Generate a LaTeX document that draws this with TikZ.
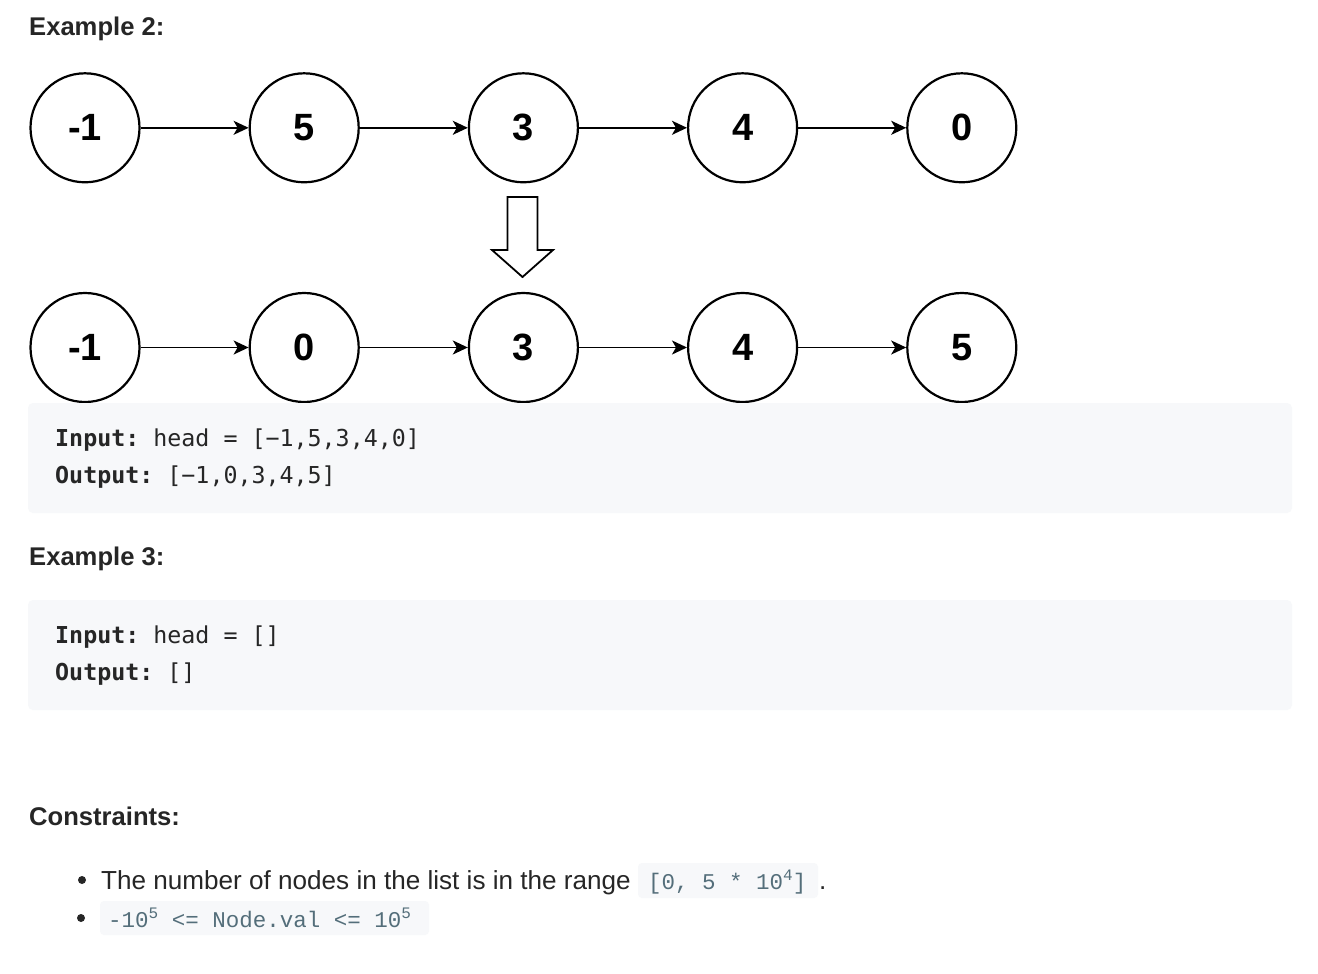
\documentclass[tikz,border=0pt]{standalone}
\usepackage{fontspec}
\setmainfont{Liberation Sans}
\setmonofont{DejaVu Sans Mono}
\newfontfamily\cmono{Liberation Mono}
\usetikzlibrary{arrows.meta}
\definecolor{txt}{RGB}{38,38,38}
\definecolor{codebg}{RGB}{247,248,250}
\definecolor{icode}{RGB}{84,110,122}
\newcommand\mysup[1]{\raisebox{9pt}{\fontsize{16}{16}\selectfont #1}}
\begin{document}
\begin{tikzpicture}[x=1pt,y=-1pt,
  lnode/.style={circle, draw, line width=2.2pt, minimum size=109pt, inner sep=0pt, font=\fontsize{38}{38}\selectfont\bfseries},
  link/.style={line width=1.8pt, -{Stealth[length=15pt,width=14pt,inset=4pt]}},
  title/.style={anchor=base west, inner sep=0pt, text=txt, font=\fontsize{25.6}{25.6}\selectfont\bfseries},
  codeblk/.style={fill=codebg, rounded corners=5pt},
  codetxt/.style={anchor=base west, inner sep=0pt, text=txt, font=\fontsize{23.3}{23.3}\selectfont\ttfamily},
  bodytxt/.style={anchor=base west, inner sep=0pt, text=txt, font=\fontsize{26.1}{26.1}\selectfont},
  icodetxt/.style={anchor=base west, inner sep=0pt, text=icode, font=\fontsize{22.5}{22.5}\selectfont\cmono},
  downarrow/.style={line width=1.8pt, fill=white, line join=miter}
]
\useasboundingbox (0,0) rectangle (1318,974);
\fill[white] (0,0) rectangle (1318,974);

% Title
\node[title] (t2) at (29,36) {Example 2:};

% Linked lists
\foreach \v [count=\i from 0] in {-1,5,3,4,0} {
  \node[lnode] (a\i) at (85+219.2*\i,127.8) {\v};
}
\foreach \v [count=\i from 0] in {-1,0,3,4,5} {
  \node[lnode] (b\i) at (85+219.2*\i,347.5) {\v};
}
\foreach \i/\j in {0/1,1/2,2/3,3/4} {
  \draw[link] (a\i) -- (a\j);
  \draw[link] (b\i) -- (b\j);
}

% Down arrow
\draw[downarrow] (507.5,197) -- (537.5,197) -- (537.5,250) -- (553,250) -- (522.5,277) -- (492,250) -- (507.5,250) -- cycle;

% Code block 1
\fill[codeblk] (28,403) rectangle (1292,513);
\node[codetxt] (in2) at (55,446) {\textbf{Input:} head = [−1,5,3,4,0]};
\node[codetxt] (out2) at (55,483) {\textbf{Output:} [−1,0,3,4,5]};

% Example 3
\node[title] (t3) at (29,565) {Example 3:};
\fill[codeblk] (28,600) rectangle (1292,710);
\node[codetxt] (in3) at (55,643) {\textbf{Input:} head = []};
\node[codetxt] (out3) at (55,680) {\textbf{Output:} []};

% Constraints
\node[title] (tc) at (29,825) {Constraints:};

\fill[txt] (82,880) circle (4);
\node[bodytxt] (c1) at (101,889) {The number of nodes in the list is in the range};
\fill[codebg, rounded corners=4pt] (638,863) rectangle (818,898);
\node[icodetxt] (c1code) at (648,889) {[0, 5 * 10\mysup{4}]};
\node[bodytxt] (c1dot) at (819,889) {.};

\fill[txt] (81,918) circle (4);
\fill[codebg, rounded corners=4pt] (100,901) rectangle (429,935);
\node[icodetxt] (c2code) at (108,927) {-10\mysup{5} <= Node.val <= 10\mysup{5}};
\end{tikzpicture}
\end{document}
